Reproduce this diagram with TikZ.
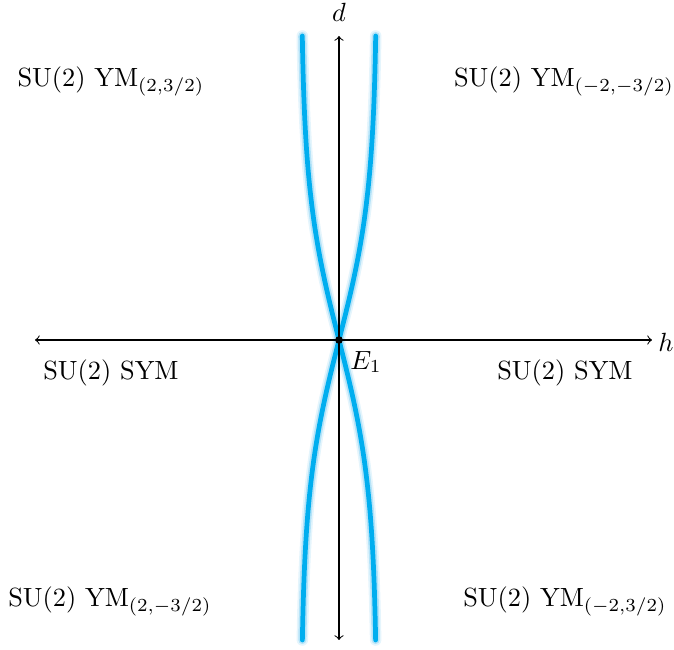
\documentclass[tikz,border=0pt]{standalone}
\definecolor{curveblue}{RGB}{0,174,239}
\definecolor{glowblue}{RGB}{150,215,245}
\tikzset{
  axis/.style={thin,<->},
  glowA/.style={line width=4.4pt,glowblue,opacity=0.25,line cap=round},
  glowB/.style={line width=3.1pt,glowblue,opacity=0.6,line cap=round},
  core/.style={line width=1.8pt,curveblue,line cap=round},
  lab/.style={anchor=base,inner sep=0pt}
}
\begin{document}
\begin{tikzpicture}[x=0.38pt,y=-0.38pt]
\useasboundingbox (0,0) rectangle (674,650);
% curves
\foreach \s in {glowA,glowB,core}{
  \draw[\s] plot[domain=-300:304,samples=120,variable=\t] ({339-38*tanh(\t/150)},{340-\t});
  \draw[\s] plot[domain=-300:304,samples=120,variable=\t] ({339+38*tanh(\t/150)},{340-\t});
}
% axes
\coordinate (L) at (35,340);
\coordinate (R) at (652,340);
\coordinate (T) at (339,36);
\coordinate (B) at (339,640);
\draw[axis] (L) -- (R);
\draw[axis] (B) -- (T);
\node (dlab) at (339,12) {$d$};
\node (hlab) at (666,342) {$h$};
\fill (339,340) circle[radius=3.8];
\node (E1) at (366,362) {$E_1$};
% labels
\node[lab] (tl) at (111,87) {SU(2) YM$_{(2,3/2)}$};
\node[lab] (tr) at (564,87) {SU(2) YM$_{(-2,-3/2)}$};
\node[lab] (ml) at (111,379) {SU(2) SYM};
\node[lab] (mr) at (565,379) {SU(2) SYM};
\node[lab] (bl) at (110,607) {SU(2) YM$_{(2,-3/2)}$};
\node[lab] (br) at (565,607) {SU(2) YM$_{(-2,3/2)}$};
\end{tikzpicture}
\end{document}
